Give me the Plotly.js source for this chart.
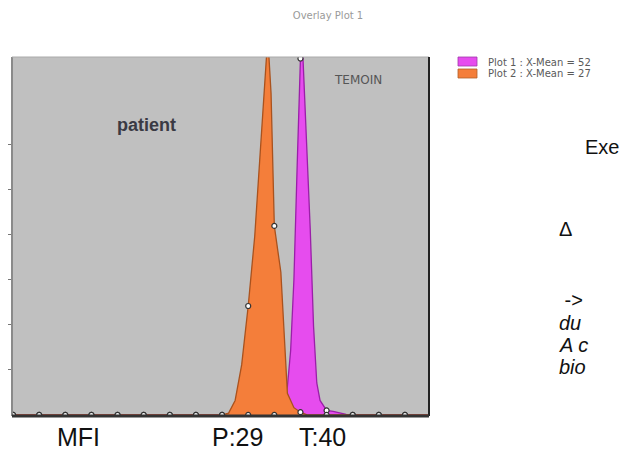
<!DOCTYPE html>
<html>
<head>
<meta charset="utf-8">
<script src="https://cdn.plot.ly/plotly-3.0.1.min.js"></script>
<style>html,body{margin:0;padding:0;background:#fff;overflow:hidden}#chart{width:622px;height:451px}</style>
</head>
<body>
<div id="chart"></div>
<script>
// Plot 1 (TEMOIN, magenta) histogram
const xPlot1 = [0,1,2,3,4,5,6,7,8,9,10,10.25,10.5,10.625,10.75,10.875,10.9375,11,11.0625,11.125,11.25,11.375,11.5,11.625,11.75,12,12.25,12.5,12.75,13,14,15,15.92];
const yPlot1 = [0,0,0,0,0,0,0,0,0,0,0,0.8,6.3,14.3,30.1,55.5,69.8,79.2,84,76.1,57.1,41.2,19.8,7.1,3.2,1,0.8,0.5,0.1,0,0,0,0];
// Plot 2 (patient, orange) histogram
const xPlot2 = [0,1,2,3,4,5,6,7,8,8.25,8.5,8.75,9,9.25,9.5,9.625,9.75,9.875,10,10.25,10.375,10.5,10.75,11,11.25,12,13,14,15,15.92];
const yPlot2 = [0,0,0,0,0,0,0,0,0,0.4,3.2,11.1,24.2,39.7,63.4,75.3,84,71.4,42,31.7,17.4,4.8,1.6,0.6,0,0,0,0,0,0];
const legendLabels = ["Plot 1 : X-Mean = 52", "Plot 2 : X-Mean = 27"];
const yTicks = [10,20,30,40,50,60];
const bottomLabels = ["MFI", "P:29", "T:40"];
const sideLines = ["Exe", "\u0394", " ->", "du", "A c", "bio"];

const magenta = '#E64CEE', orange = '#F47E3A';

function integerPoints(xs, ys){
  const px=[], py=[];
  xs.forEach((x,i)=>{ if(Number.isInteger(x)){ px.push(x); py.push(ys[i]); } });
  return {x:px, y:py};
}
const m1 = integerPoints(xPlot1, yPlot1);
const m2 = integerPoints(xPlot2, yPlot2);

const traces = [
  {x:xPlot1, y:yPlot1, type:'scatter', mode:'lines', fill:'tozeroy', fillcolor:magenta,
   line:{color:'#9A1FA8', width:1.3}, name:legendLabels[0], showlegend:false, hoverinfo:'skip'},
  {x:xPlot2, y:yPlot2, type:'scatter', mode:'lines', fill:'tozeroy', fillcolor:orange,
   line:{color:'#A9521E', width:1.3}, name:legendLabels[1], showlegend:false, hoverinfo:'skip'},
  {x:m1.x, y:m1.y, type:'scatter', mode:'markers', showlegend:false, hoverinfo:'skip',
   marker:{size:5, color:'#fff', line:{color:'#333', width:1.2}}},
  {x:m2.x, y:m2.y, type:'scatter', mode:'markers', showlegend:false, hoverinfo:'skip',
   marker:{size:5, color:'#fff', line:{color:'#333', width:1.2}}}
];

// helpers converting page pixels to paper coords (plot area 12..429 x, 57..416 y)
const L=12, R=429, T=57, B=416;
const px = v => (v-L)/(R-L);
const py = v => (B-v)/(B-T);

const ann = [];
ann.push({text:'<b>patient</b>', x:px(146), y:py(125), xref:'paper', yref:'paper', showarrow:false,
  font:{family:'Liberation Sans, Arial', size:18, color:'#3a3a44'}, xanchor:'center', yanchor:'middle'});
ann.push({text:'TEMOIN', x:px(358), y:py(80), xref:'paper', yref:'paper', showarrow:false,
  font:{family:'DejaVu Sans', size:12, color:'#555'}, xanchor:'center', yanchor:'middle'});
legendLabels.forEach((t,i)=>{
  ann.push({text:t, x:px(486), y:py(62+i*12), xref:'paper', yref:'paper', showarrow:false,
    font:{family:'DejaVu Sans', size:10, color:'#5a5a5a'}, xanchor:'left', yanchor:'middle'});
});
const bx = [78, 238, 322];
bottomLabels.forEach((t,i)=>{
  ann.push({text:t, x:px(bx[i]), y:py(437), xref:'paper', yref:'paper', showarrow:false,
    font:{family:'Liberation Sans, Arial', size:25, color:'#111'}, xanchor:'center', yanchor:'middle'});
});
const sx = [583, 557, 557, 557, 557, 557];
const sy = [147, 229, 300, 323, 345, 367];
sideLines.forEach((t,i)=>{
  const it = i>=3;
  ann.push({text: it ? '<i>'+t+'</i>' : t, x:px(sx[i]), y:py(sy[i]), xref:'paper', yref:'paper', showarrow:false,
    font:{family:'Liberation Sans, Arial', size:20, color:'#111'}, xanchor:'left', yanchor:'middle'});
});

const shapes = [
  {type:'rect', xref:'paper', yref:'paper', x0:px(458), x1:px(477), y0:py(57), y1:py(66), fillcolor:magenta, line:{color:'#A03AA8', width:0.8}},
  {type:'rect', xref:'paper', yref:'paper', x0:px(458), x1:px(477), y0:py(69), y1:py(78), fillcolor:orange, line:{color:'#B0602A', width:0.8}},
  {type:'line', xref:'paper', yref:'paper', x0:0, x1:0, y0:0, y1:1, line:{color:'#8a8a8a', width:2}},
  {type:'line', xref:'paper', yref:'paper', x0:0, x1:1, y0:1, y1:1, line:{color:'#aaaaaa', width:1}},
  {type:'line', xref:'paper', yref:'paper', x0:1, x1:1, y0:0, y1:1, line:{color:'#222', width:2}},
  {type:'line', xref:'paper', yref:'paper', x0:0, x1:1, y0:0, y1:0, line:{color:'#333', width:3}}
];

const layout = {
  width:622, height:451,
  margin:{l:L, r:622-R, t:T, b:451-B, pad:0},
  paper_bgcolor:'#ffffff', plot_bgcolor:'#c0c0c0',
  title:{text:'Overlay Plot 1', x:328/622, xanchor:'center', y:1-15/451, yanchor:'middle',
    font:{family:'DejaVu Sans', size:10, color:'#9a9a9a'}},
  showlegend:false,
  xaxis:{range:[-0.04,15.92], showticklabels:false, showgrid:false, zeroline:false, ticks:'', showline:false, fixedrange:true},
  yaxis:{range:[-0.25,79.53], tickvals:yTicks, ticks:'outside', ticklen:3, tickcolor:'#777', tickwidth:1,
    showticklabels:false, showgrid:false, zeroline:false, showline:false, fixedrange:true},
  annotations:ann, shapes:shapes
};
Plotly.newPlot('chart', traces, layout, {staticPlot:true, displayModeBar:false});
</script>
</body>
</html>
